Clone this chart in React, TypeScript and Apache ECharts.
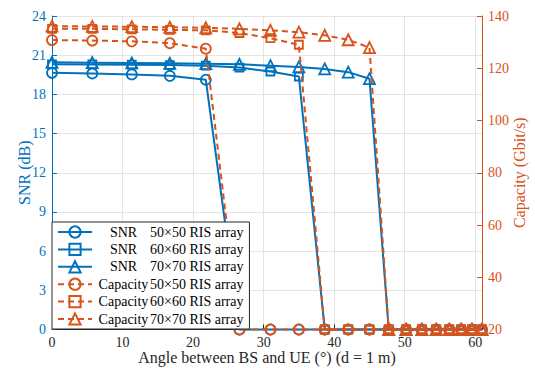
import React, { useEffect, useRef } from 'react';
import * as echarts from 'echarts';

const angles = [0, 5.71, 11.31, 16.7, 21.8, 26.57, 30.96, 34.99, 38.66, 41.99, 45.0, 47.73, 50.19, 52.43, 54.46, 56.31, 57.99, 59.53, 60.95];

const snr50 = [19.65, 19.6, 19.53, 19.42, 19.12, 0, 0, 0, 0, 0, 0, 0, 0, 0, 0, 0, 0, 0, 0];
const snr60 = [20.3, 20.29, 20.27, 20.24, 20.2, 20.05, 19.75, 19.37, 0, 0, 0, 0, 0, 0, 0, 0, 0, 0, 0];
const snr70 = [20.45, 20.43, 20.41, 20.38, 20.35, 20.3, 20.2, 20.1, 19.95, 19.7, 19.2, 0, 0, 0, 0, 0, 0, 0, 0];

const cap50 = [130.8, 130.6, 130.3, 129.6, 127.5, 20, 20, 20, 20, 20, 20, 20, 20, 20, 20, 20, 20, 20, 20];
const cap60 = [135.1, 135.1, 134.9, 134.7, 134.5, 133.5, 131.5, 129.0, 20, 20, 20, 20, 20, 20, 20, 20, 20, 20, 20];
const cap70 = [136.1, 136.0, 135.9, 135.7, 135.5, 135.1, 134.5, 133.8, 132.6, 130.9, 127.9, 20, 20, 20, 20, 20, 20, 20, 20];

const seriesNames = [
  'SNR 50×50 RIS array',
  'SNR 60×60 RIS array',
  'SNR 70×70 RIS array',
  'Capacity 50×50 RIS array',
  'Capacity 60×60 RIS array',
  'Capacity 70×70 RIS array',
];

const xTicks = [0, 10, 20, 30, 40, 50, 60];

const BLUE = '#0072BD';
const ORANGE = '#D95319';
const DARK = '#262626';
const FONT = 'Liberation Serif';

export default function App() {
  const ref = useRef<HTMLDivElement>(null);

  useEffect(() => {
    if (!ref.current) return;
    const chart = echarts.init(ref.current, null, { renderer: 'svg' });

    const defs = [
      { name: seriesNames[0], vals: snr50, axis: 0, symbol: 'circle', size: 10, color: BLUE, dash: 'solid' },
      { name: seriesNames[1], vals: snr60, axis: 0, symbol: 'rect', size: 8, color: BLUE, dash: 'solid' },
      { name: seriesNames[2], vals: snr70, axis: 0, symbol: 'triangle', size: 11, color: BLUE, dash: 'solid' },
      { name: seriesNames[3], vals: cap50, axis: 1, symbol: 'circle', size: 10, color: ORANGE, dash: [6, 4] },
      { name: seriesNames[4], vals: cap60, axis: 1, symbol: 'rect', size: 8, color: ORANGE, dash: [6, 4] },
      { name: seriesNames[5], vals: cap70, axis: 1, symbol: 'triangle', size: 11, color: ORANGE, dash: [6, 4] },
    ];

    const series = defs.map((d, idx) => ({
      name: d.name,
      type: 'line',
      xAxisIndex: 0,
      yAxisIndex: d.axis,
      data: angles.map((x, i) => [x, d.vals[i]]),
      symbol: d.symbol,
      symbolSize: d.size,
      showSymbol: true,
      clip: false,
      z: 2 + idx * 0.1,
      lineStyle: { color: d.color, width: 2, type: d.dash },
      itemStyle: { color: 'rgba(0,0,0,0)', borderColor: d.color, borderWidth: 1.8 },
      emphasis: { disabled: true },
    }));

    chart.setOption({
      animation: false,
      textStyle: { fontFamily: FONT },
      grid: { left: 52, right: 53, top: 16, bottom: 38.5, containLabel: false, outerBoundsMode: 'none' },
      legend: {
        orient: 'vertical',
        left: 52,
        bottom: 39,
        selectedMode: false,
        data: seriesNames,
        itemWidth: 34,
        itemHeight: 14,
        itemGap: 3.4,
        padding: [3, 6, 3, 5],
        backgroundColor: '#ffffff',
        borderColor: DARK,
        borderWidth: 1,
        borderRadius: 0,
        z: 10,
        formatter: (name: string) => {
          const sp = name.indexOf(' ');
          return '{a|' + name.slice(0, sp) + '}{b|' + name.slice(sp + 1) + '}';
        },
        textStyle: {
          fontFamily: FONT,
          fontSize: 14,
          color: '#000',
          rich: {
            a: { fontFamily: FONT, fontSize: 14, color: '#000', width: 53, align: 'center' },
            b: { fontFamily: FONT, fontSize: 14, color: '#000' },
          },
        },
      },
      xAxis: {
        type: 'value',
        min: 0,
        max: 60.95,
        interval: 10,
        name: 'Angle between BS and UE (°) (d = 1 m)',
        nameLocation: 'middle',
        nameGap: 20,
        nameMoveOverlap: false,
        nameTextStyle: { fontFamily: FONT, fontSize: 16, color: DARK },
        axisLine: { show: true, onZero: false, lineStyle: { color: DARK, width: 1 } },
        axisTick: { show: true, inside: true, length: 5, lineStyle: { color: DARK } },
        axisLabel: {
          fontFamily: FONT,
          fontSize: 14,
          color: DARK,
          margin: 6,
          formatter: (v: number) => (xTicks.indexOf(v) >= 0 ? String(v) : ''),
        },
        splitLine: { show: true, lineStyle: { color: '#e4e4e4', width: 1 } },
      },
      yAxis: [
        {
          type: 'value',
          position: 'left',
          min: 0,
          max: 24,
          interval: 3,
          name: 'SNR (dB)',
          nameLocation: 'middle',
          nameGap: 20,
          nameMoveOverlap: false,
          nameTextStyle: { fontFamily: FONT, fontSize: 16, color: BLUE },
          axisLine: { show: true, onZero: false, lineStyle: { color: BLUE, width: 1 } },
          axisTick: { show: true, inside: true, length: 5, lineStyle: { color: BLUE } },
          axisLabel: { fontFamily: FONT, fontSize: 14, color: BLUE, margin: 6 },
          splitLine: { show: true, lineStyle: { color: '#e4e4e4', width: 1 } },
        },
        {
          type: 'value',
          position: 'right',
          min: 20,
          max: 140,
          interval: 20,
          name: 'Capacity (Gbit/s)',
          nameLocation: 'middle',
          nameGap: 29,
          nameMoveOverlap: false,
          nameTextStyle: { fontFamily: FONT, fontSize: 16, color: ORANGE },
          axisLine: { show: true, onZero: false, lineStyle: { color: ORANGE, width: 1 } },
          axisTick: { show: true, inside: true, length: 5, lineStyle: { color: ORANGE } },
          axisLabel: { fontFamily: FONT, fontSize: 14, color: ORANGE, margin: 6 },
          splitLine: { show: false },
        },
      ],
      series,
    });

    return () => chart.dispose();
  }, []);

  return <div ref={ref} style={{ width: 535, height: 368, position: 'absolute', left: 0, top: 0 }} />;
}
